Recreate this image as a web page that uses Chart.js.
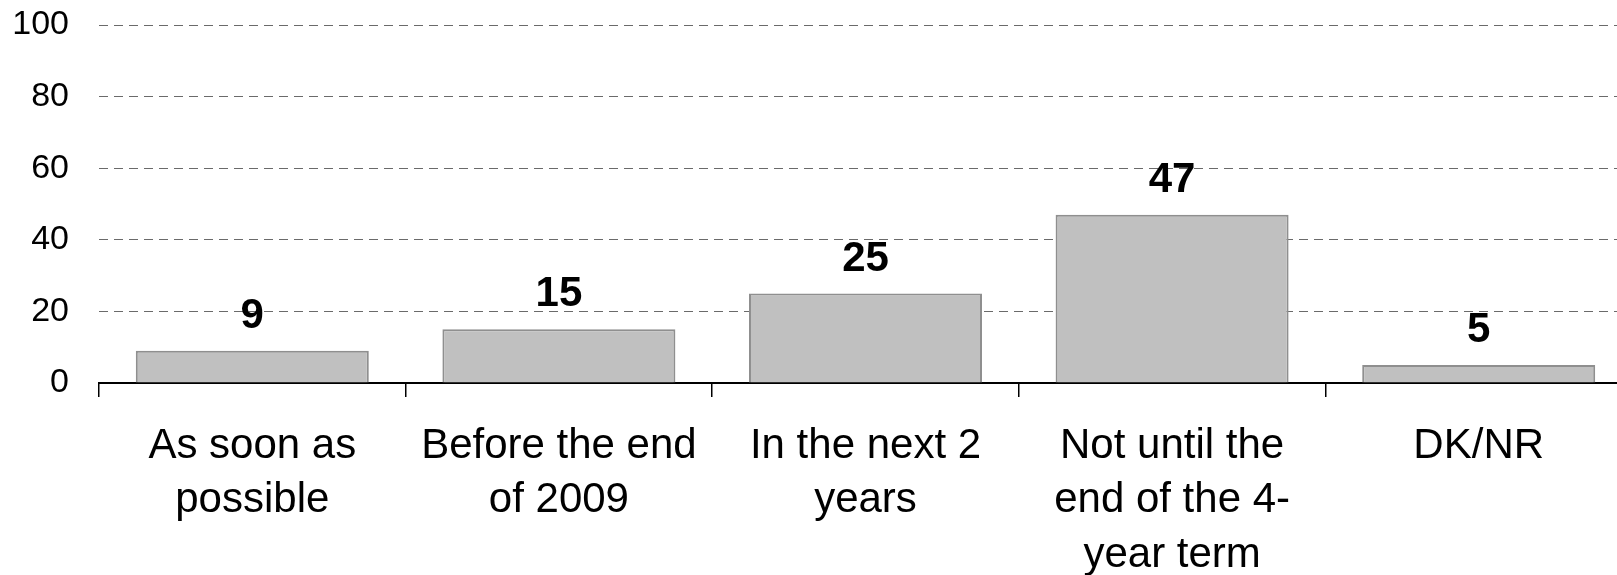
<!DOCTYPE html>
<html>
<head>
<meta charset="utf-8">
<script src="https://cdn.jsdelivr.net/npm/chart.js@4/dist/chart.umd.min.js"></script>
<style>
html,body{margin:0;padding:0;background:#fff;overflow:hidden;width:1617px;height:575px;}
canvas{display:block;}
</style>
</head>
<body>
<canvas id="c" width="1632" height="575"></canvas>
<script>
const categories = [
  ["As soon as", "possible"],
  ["Before the end", "of 2009"],
  ["In the next 2", "years"],
  ["Not until the", "end of the 4-", "year term"],
  ["DK/NR"]
];
const values = [9, 15, 25, 47, 5];
const yTicks = [0, 20, 40, 60, 80, 100];

const valueLabels = {
  id: 'valueLabels',
  afterDatasetsDraw(chart) {
    const ctx = chart.ctx;
    const meta = chart.getDatasetMeta(0);
    ctx.save();
    ctx.font = 'bold 42px "Liberation Sans", Arial, sans-serif';
    ctx.fillStyle = '#000';
    ctx.textAlign = 'center';
    ctx.textBaseline = 'alphabetic';
    meta.data.forEach((bar, i) => {
      ctx.fillText(String(values[i]), bar.x, bar.y - 23);
    });
    ctx.restore();
  }
};

new Chart(document.getElementById('c'), {
  type: 'bar',
  data: {
    labels: categories,
    datasets: [{
      data: values,
      backgroundColor: '#c0c0c0',
      borderColor: '#8f8f8f',
      borderWidth: 2,
      borderSkipped: 'bottom',
      barPercentage: 0.76,
      categoryPercentage: 1.0
    }]
  },
  plugins: [valueLabels],
  options: {
    responsive: false,
    animation: false,
    devicePixelRatio: 1,
    layout: { padding: { top: 25, right: 0, left: 0, bottom: 0 } },
    plugins: { legend: { display: false }, tooltip: { enabled: false } },
    scales: {
      x: {
        offset: true,
        grid: {
          offset: true,
          drawOnChartArea: false,
          drawTicks: true,
          tickLength: 14,
          color: '#000',
          lineWidth: 1.5
        },
        border: { display: true, color: '#000', width: 2 },
        ticks: {
          color: '#000',
          padding: 22,
          maxRotation: 0,
          autoSkip: false,
          font: { family: '"Liberation Sans", Arial, sans-serif', size: 42, lineHeight: 1.3 }
        },
        afterFit(scale) { scale.height = 192; scale.paddingLeft = 0; scale.paddingRight = 0; }
      },
      y: {
        min: 0,
        max: 100,
        afterBuildTicks(scale) { scale.ticks = yTicks.map(v => ({ value: v })); },
        grid: {
          drawTicks: false,
          color: (c) => c.tick && c.tick.value === 0 ? 'rgba(0,0,0,0)' : '#6a6a6a',
          lineWidth: 1
        },
        border: { display: false, dash: [9, 6] },
        ticks: {
          color: '#000',
          padding: 30,
          font: { family: '"Liberation Sans", Arial, sans-serif', size: 34 }
        },
        afterFit(scale) { scale.width = 99; scale.paddingTop = 0; scale.paddingBottom = 0; }
      }
    }
  }
});
</script>
</body>
</html>
